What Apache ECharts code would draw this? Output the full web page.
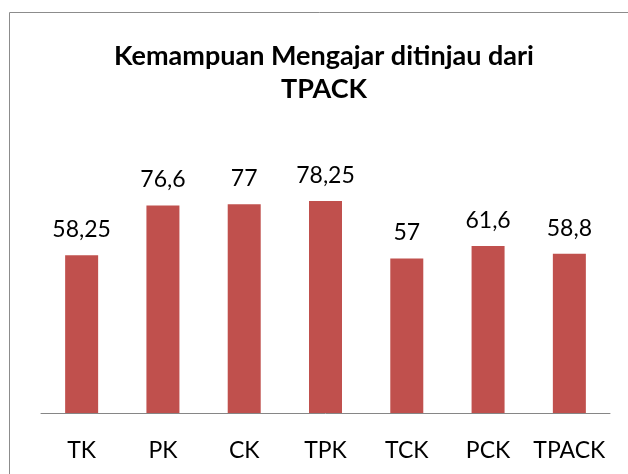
<!DOCTYPE html>
<html>
<head>
<meta charset="utf-8">
<script src="https://cdn.jsdelivr.net/npm/echarts@6/dist/echarts.min.js"></script>
<style>
  html, body { margin: 0; padding: 0; background: #fff; }
  #chart { width: 628px; height: 474px; }
</style>
</head>
<body>
<div id="chart"></div>
<script>
var categories = ['TK', 'PK', 'CK', 'TPK', 'TCK', 'PCK', 'TPACK'];
var values = [58.25, 76.6, 77, 78.25, 57, 61.6, 58.8];
var valueLabels = ['58,25', '76,6', '77', '78,25', '57', '61,6', '58,8'];

var myChart = echarts.init(document.getElementById('chart'));
myChart.setOption({
    animation: false,
    title: {
        text: 'Kemampuan Mengajar ditinjau dari\nTPACK',
        left: 319,
        textAlign: 'center',
        top: 35,
        textStyle: { fontFamily: 'Lato', fontWeight: 'bold', fontSize: 27, color: '#000', lineHeight: 33 }
    },
    graphic: [{
        type: 'rect',
        shape: { x: 9.5, y: 12.5, width: 700, height: 600 },
        style: { fill: 'none', stroke: '#8c8c8c', lineWidth: 1 }
    }],
    grid: { left: 41, right: 18, top: 142, bottom: 61 },
    xAxis: {
        type: 'category',
        data: categories,
        axisLine: { lineStyle: { color: '#868686', width: 1 } },
        axisTick: { show: false },
        axisLabel: { interval: 0, fontFamily: 'Lato', fontSize: 23, color: '#000', margin: 26 }
    },
    yAxis: {
        type: 'value',
        min: 0,
        max: 100,
        show: false,
        splitLine: { show: false }
    },
    series: [{
        type: 'bar',
        data: values,
        barWidth: 33,
        itemStyle: { color: '#C0504D' },
        label: {
            show: true,
            position: 'top',
            distance: 14,
            fontFamily: 'Lato',
            fontSize: 23,
            color: '#000',
            formatter: function (p) { return valueLabels[p.dataIndex]; }
        }
    }]
});
</script>
</body>
</html>
